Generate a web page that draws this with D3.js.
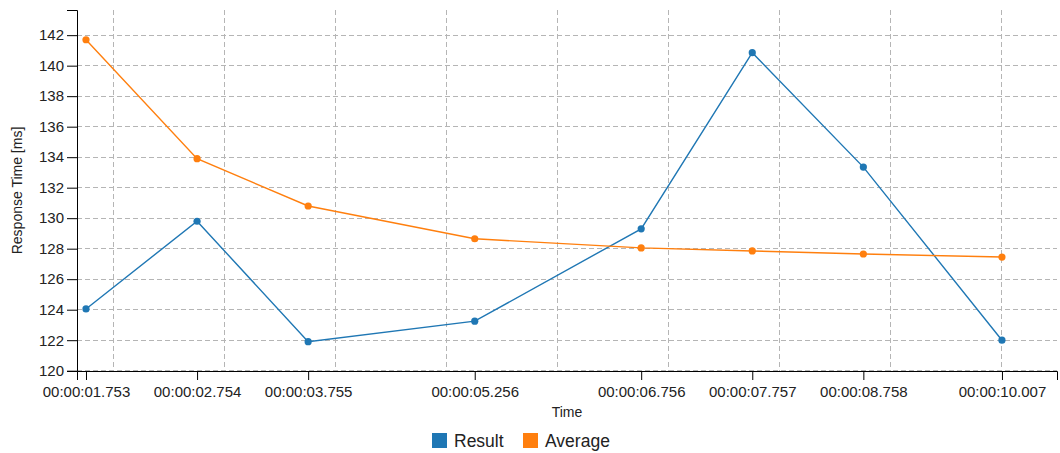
<!DOCTYPE html>
<html>
<head>
<meta charset="utf-8">
<script src="https://cdn.jsdelivr.net/npm/d3@7"></script>
<style>
  html, body { margin: 0; padding: 0; background: #fff; }
  svg { display: block; font-family: "Liberation Sans", Arial, sans-serif; }
</style>
</head>
<body>
<svg id="chart" width="1060" height="453"></svg>
<script>
const times = ["00:00:01.753", "00:00:02.754", "00:00:03.755", "00:00:05.256", "00:00:06.756", "00:00:07.757", "00:00:08.758", "00:00:10.007"];
const resultValues = [124.05, 129.8, 121.9, 123.25, 129.3, 140.85, 133.35, 122.0];
const averageValues = [141.7, 133.9, 130.8, 128.65, 128.05, 127.85, 127.65, 127.45];
const seriesNames = ["Result", "Average"];
const seriesColors = ["#1f77b4", "#ff7f0e"];
const yTicks = [120, 122, 124, 126, 128, 130, 132, 134, 136, 138, 140, 142];
const xDomainStrings = ["00:00:01.672", "00:00:10.503"];
const yDomain = [119.98, 143.65];

const parse = d3.utcParse("%H:%M:%S.%L");
const fmt = d3.utcFormat("%H:%M:%S.%L");
const dates = times.map(parse);

const margin = {left: 77, right: 3, top: 10, bottom: 82};
const W = 1060, H = 453;
const svg = d3.select("#chart");

const x = d3.scaleUtc().domain(xDomainStrings.map(parse)).range([margin.left, W - margin.right]);
const y = d3.scaleLinear().domain(yDomain).range([H - margin.bottom, margin.top]);

const gridColor = "#b5b5b5";
// horizontal grid
svg.append("g").selectAll("line").data(yTicks).join("line")
  .attr("x1", margin.left).attr("x2", W - margin.right)
  .attr("y1", d => y(d)).attr("y2", d => y(d))
  .attr("stroke", gridColor).attr("stroke-dasharray", "5 3").attr("stroke-width", 1)
  .attr("shape-rendering", "crispEdges");
// vertical grid at whole seconds
const secTicks = x.ticks(d3.utcSecond.every(1));
svg.append("g").selectAll("line").data(secTicks).join("line")
  .attr("x1", d => Math.round(x(d)) + 0.5).attr("x2", d => Math.round(x(d)) + 0.5)
  .attr("y1", margin.top).attr("y2", H - margin.bottom)
  .attr("stroke", gridColor).attr("stroke-dasharray", "5 3").attr("stroke-width", 1);

// axes
const xAxis = d3.axisBottom(x).tickValues(dates).tickFormat(fmt).tickSize(9);
const gx = svg.append("g").attr("transform", `translate(0,${H - margin.bottom})`).call(xAxis);
gx.selectAll("text").attr("font-size", 15).attr("fill", "#222").attr("font-family", "Liberation Sans, Arial, sans-serif").attr("dy", "0.95em");
gx.select(".domain").attr("stroke", "#000");

const yAxis = d3.axisLeft(y).tickValues(yTicks).tickSize(10);
const gy = svg.append("g").attr("transform", `translate(${margin.left},0)`).call(yAxis);
gy.selectAll("text").attr("font-size", 15).attr("fill", "#222").attr("font-family", "Liberation Sans, Arial, sans-serif").attr("x", -13);
gy.select(".domain").attr("stroke", "#000");

// axis titles
svg.append("text").attr("x", (margin.left + W - margin.right) / 2).attr("y", 417)
  .attr("text-anchor", "middle").attr("font-size", 14).attr("fill", "#222").text("Time");
svg.append("text").attr("transform", `translate(22,${(margin.top + H - margin.bottom) / 2}) rotate(-90)`)
  .attr("text-anchor", "middle").attr("font-size", 14).attr("fill", "#222").text("Response Time [ms]");

// series
const seriesData = [resultValues, averageValues];
seriesData.forEach((vals, i) => {
  const pts = vals.map((v, j) => [dates[j], v]);
  svg.append("path").datum(pts)
    .attr("fill", "none").attr("stroke", seriesColors[i]).attr("stroke-width", 1.4)
    .attr("d", d3.line().x(d => x(d[0])).y(d => y(d[1])));
  svg.append("g").selectAll("circle").data(pts).join("circle")
    .attr("cx", d => x(d[0])).attr("cy", d => y(d[1])).attr("r", 3.6)
    .attr("fill", seriesColors[i]);
});

// legend
const legendItems = [{name: seriesNames[0], x: 432}, {name: seriesNames[1], x: 523}];
legendItems.forEach((it, i) => {
  svg.append("rect").attr("x", it.x).attr("y", 433).attr("width", 15).attr("height", 15).attr("fill", seriesColors[i]);
  svg.append("text").attr("x", it.x + 22).attr("y", 447).attr("font-size", 17.5).attr("fill", "#222").text(it.name);
});
</script>
</body>
</html>
